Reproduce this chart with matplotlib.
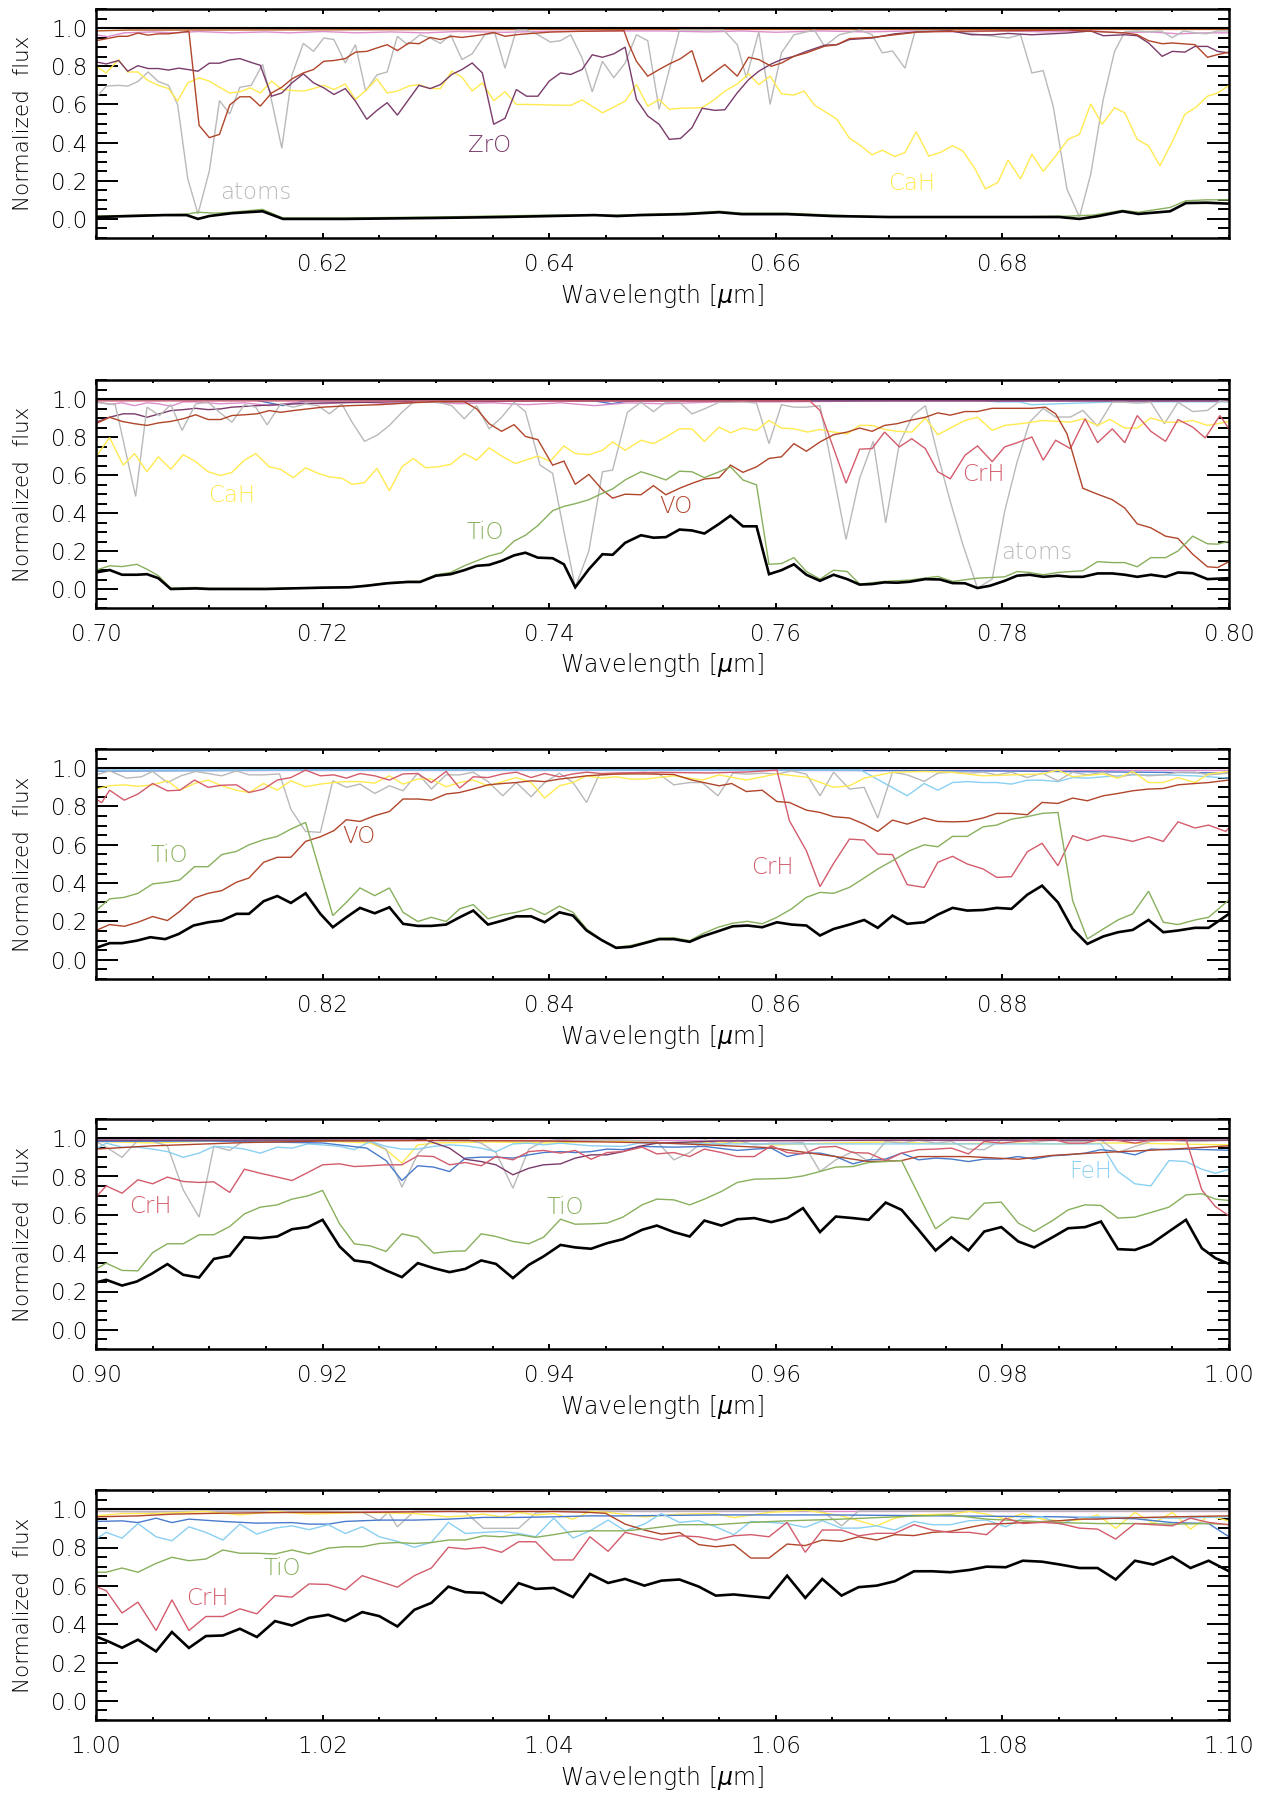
import matplotlib
matplotlib.use('Agg')
import matplotlib.pyplot as plt
from matplotlib.ticker import MultipleLocator, FixedLocator
from matplotlib import font_manager

plt.rcParams['font.family'] = ['DejaVu Sans']
_names = {f.name + '|' + str(f.weight) for f in font_manager.fontManager.ttflist}
LIGHT = 'light' if any(n.startswith('DejaVu Sans|') and n.split('|')[1] in ('200', '300', 'light', 'extra-light') for n in _names) else 'normal'
plt.rcParams['font.weight'] = LIGHT
plt.rcParams['axes.labelweight'] = LIGHT
plt.rcParams['mathtext.fontset'] = 'custom'
plt.rcParams['mathtext.it'] = 'DejaVu Sans:italic:light'
plt.rcParams['mathtext.rm'] = 'DejaVu Sans:light'

# ---------------- colours ----------------
C_TOTAL = 'black'
C_ATOMS = '#b9b9b9'
C_ZRO = '#7a3b6b'
C_CAH = '#ffea50'
C_VO = '#b0452a'
C_TIO = '#88b05c'
C_CRH = '#d35c6c'
C_FEH = '#8ad0f2'
C_BLUE = '#4a7bcc'
C_PINK = '#dc8fcc'
C_TOP = '#b85a22'

# ---------------- panel 1 : 0.60-0.70 ----------------
p1_total = [(0.600,0.01),(0.603,0.015),(0.606,0.02),(0.608,0.02),(0.609,0.0),(0.610,0.015),(0.612,0.03),(0.6147,0.04),(0.6165,0.0),(0.622,0.0),(0.630,0.005),(0.636,0.01),(0.640,0.015),(0.644,0.02),(0.646,0.015),(0.648,0.02),(0.652,0.025),(0.655,0.035),(0.657,0.025),(0.661,0.025),(0.665,0.015),(0.670,0.01),(0.675,0.01),(0.680,0.01),(0.685,0.01),(0.6868,0.0),(0.6885,0.015),(0.6906,0.04),(0.692,0.026),(0.6948,0.04),(0.6962,0.083),(0.698,0.085),(0.700,0.08)]
p1_tio = [(0.600,0.015),(0.604,0.02),(0.608,0.025),(0.609,0.035),(0.6105,0.03),(0.612,0.035),(0.6147,0.05),(0.6165,0.005),(0.622,0.005),(0.630,0.01),(0.640,0.02),(0.646,0.02),(0.652,0.03),(0.655,0.04),(0.657,0.03),(0.661,0.03),(0.665,0.02),(0.670,0.01),(0.680,0.01),(0.686,0.015),(0.688,0.02),(0.6906,0.045),(0.692,0.035),(0.6948,0.06),(0.6962,0.095),(0.698,0.10),(0.700,0.10)]
p1_atoms = [(0.600,0.635),(0.6009,0.696),(0.602,0.70),(0.6028,0.696),(0.6037,0.72),(0.6046,0.77),(0.6055,0.72),(0.6064,0.70),(0.6072,0.60),(0.6081,0.21),(0.609,0.026),(0.610,0.25),(0.6109,0.62),(0.6118,0.55),(0.6127,0.69),(0.6137,0.70),(0.6147,0.81),(0.6155,0.62),(0.6164,0.37),(0.6173,0.755),(0.6183,0.92),(0.6192,0.878),(0.6201,0.948),(0.621,0.94),(0.622,0.817),(0.6229,0.913),(0.6238,0.67),(0.6248,0.755),(0.6257,0.77),(0.6266,0.957),(0.6275,0.913),(0.6286,0.965),(0.6295,0.948),(0.6304,0.92),(0.6313,0.965),(0.6323,0.835),(0.6332,0.865),(0.6343,0.965),(0.6352,0.974),(0.6361,0.79),(0.6371,0.99),(0.638,0.99),(0.639,0.965),(0.6401,0.927),(0.641,0.934),(0.6419,0.965),(0.6429,0.843),(0.6438,0.666),(0.6447,0.826),(0.6457,0.74),(0.6467,0.817),(0.6477,0.965),(0.6487,0.934),(0.6497,0.574),(0.6515,0.99),(0.6554,0.99),(0.6566,0.913),(0.6574,0.74),(0.6585,0.98),(0.6595,0.60),(0.6605,0.87),(0.6616,0.965),(0.6627,0.98),(0.6634,0.99),(0.6643,0.905),(0.6656,0.965),(0.6674,0.99),(0.6685,0.965),(0.6694,0.87),(0.6703,0.88),(0.6714,0.79),(0.6723,0.985),(0.6754,0.985),(0.6805,0.948),(0.6816,0.965),(0.6826,0.765),(0.6836,0.777),(0.6845,0.586),(0.6857,0.156),(0.6868,0.01),(0.6878,0.235),(0.6889,0.626),(0.6899,0.878),(0.6908,0.98),(0.6919,0.985),(0.6929,0.98),(0.694,0.985),(0.695,0.95),(0.696,0.985),(0.697,0.975),(0.698,0.97),(0.699,0.985),(0.700,0.985)]
p1_zro = [(0.600,0.823),(0.6009,0.812),(0.602,0.83),(0.6028,0.774),(0.6037,0.803),(0.6046,0.788),(0.6055,0.788),(0.6064,0.78),(0.6073,0.79),(0.6081,0.783),(0.609,0.774),(0.610,0.816),(0.6109,0.816),(0.6118,0.833),(0.6127,0.84),(0.6137,0.82),(0.6145,0.805),(0.6155,0.643),(0.6164,0.66),(0.6173,0.713),(0.6183,0.76),(0.6192,0.713),(0.6201,0.687),(0.621,0.652),(0.622,0.683),(0.6229,0.617),(0.6239,0.522),(0.6248,0.569),(0.6257,0.609),(0.6266,0.544),(0.6276,0.626),(0.6285,0.70),(0.6295,0.683),(0.6304,0.704),(0.6314,0.757),(0.6323,0.783),(0.6332,0.817),(0.6341,0.765),(0.6351,0.496),(0.6361,0.527),(0.6371,0.678),(0.638,0.643),(0.639,0.643),(0.640,0.722),(0.641,0.765),(0.6419,0.757),(0.6429,0.783),(0.6438,0.86),(0.6447,0.847),(0.6457,0.865),(0.6467,0.90),(0.6477,0.626),(0.6487,0.539),(0.6497,0.496),(0.6506,0.417),(0.6516,0.422),(0.6526,0.478),(0.6535,0.58),(0.6546,0.569),(0.6555,0.572),(0.6566,0.661),(0.6576,0.73),(0.6585,0.774),(0.6596,0.812),(0.6605,0.835),(0.6616,0.852),(0.6627,0.878),(0.6643,0.91),(0.6654,0.913),(0.6665,0.94),(0.6685,0.948),(0.6705,0.97),(0.6725,0.98),(0.6754,0.986),(0.6773,0.965),(0.6791,0.965),(0.6805,0.972),(0.6826,0.965),(0.6857,0.974),(0.6878,0.985),(0.6889,0.96),(0.6908,0.965),(0.6919,0.96),(0.6929,0.922),(0.6941,0.852),(0.695,0.878),(0.6961,0.874),(0.697,0.904),(0.6981,0.904),(0.699,0.878),(0.700,0.87)]
p1_vo = [(0.600,0.934),(0.6009,0.944),(0.602,0.957),(0.6028,0.957),(0.6037,0.974),(0.6046,0.963),(0.6055,0.97),(0.6064,0.97),(0.6082,0.983),(0.6091,0.49),(0.610,0.426),(0.6109,0.443),(0.6118,0.597),(0.6127,0.64),(0.6136,0.64),(0.6145,0.591),(0.6155,0.66),(0.6164,0.69),(0.6173,0.734),(0.6183,0.765),(0.6192,0.783),(0.6201,0.826),(0.621,0.83),(0.622,0.84),(0.6229,0.874),(0.6239,0.878),(0.6248,0.896),(0.6257,0.913),(0.6266,0.882),(0.6276,0.922),(0.6285,0.918),(0.6295,0.951),(0.6304,0.94),(0.6314,0.957),(0.6323,0.951),(0.6341,0.965),(0.6351,0.977),(0.6361,0.957),(0.6371,0.965),(0.638,0.97),(0.6401,0.979),(0.6426,0.983),(0.6466,0.986),(0.647,0.92),(0.6477,0.826),(0.6487,0.748),(0.6497,0.783),(0.6506,0.812),(0.6516,0.84),(0.6526,0.882),(0.6535,0.718),(0.6546,0.77),(0.6555,0.809),(0.6566,0.748),(0.6576,0.847),(0.6585,0.835),(0.6596,0.80),(0.6605,0.817),(0.6616,0.852),(0.6627,0.87),(0.6643,0.905),(0.6654,0.913),(0.6665,0.945),(0.6685,0.951),(0.6705,0.965),(0.6725,0.979),(0.6754,0.983),(0.6805,0.986),(0.6857,0.99),(0.6889,0.98),(0.6908,0.975),(0.6919,0.965),(0.6929,0.934),(0.6941,0.918),(0.695,0.922),(0.6961,0.917),(0.697,0.913),(0.6981,0.847),(0.699,0.861),(0.700,0.874)]
p1_cah = [(0.600,0.80),(0.6009,0.765),(0.602,0.835),(0.6028,0.77),(0.6037,0.77),(0.6046,0.725),(0.6055,0.70),(0.6064,0.683),(0.6072,0.617),(0.6081,0.713),(0.6091,0.739),(0.610,0.722),(0.6109,0.69),(0.6118,0.66),(0.6127,0.666),(0.6136,0.687),(0.6145,0.66),(0.6155,0.722),(0.6164,0.678),(0.6173,0.673),(0.6183,0.67),(0.6192,0.683),(0.6201,0.70),(0.621,0.678),(0.622,0.707),(0.6229,0.626),(0.6239,0.678),(0.6248,0.734),(0.6257,0.66),(0.6266,0.67),(0.6276,0.696),(0.6285,0.704),(0.6295,0.683),(0.6304,0.683),(0.6314,0.774),(0.6323,0.743),(0.6332,0.67),(0.6341,0.713),(0.6351,0.62),(0.6361,0.666),(0.6371,0.60),(0.638,0.60),(0.640,0.597),(0.6419,0.595),(0.6429,0.624),(0.6447,0.556),(0.6467,0.617),(0.6477,0.704),(0.6487,0.591),(0.6497,0.626),(0.6506,0.574),(0.6516,0.58),(0.6535,0.583),(0.6546,0.626),(0.6555,0.67),(0.6566,0.707),(0.6576,0.76),(0.6585,0.704),(0.6595,0.748),(0.6605,0.656),(0.6616,0.649),(0.6625,0.67),(0.6634,0.597),(0.6645,0.556),(0.6654,0.522),(0.6665,0.423),(0.6674,0.388),(0.6685,0.336),(0.6694,0.36),(0.6705,0.327),(0.6714,0.348),(0.6724,0.457),(0.6735,0.329),(0.6745,0.348),(0.6756,0.383),(0.6765,0.357),(0.6776,0.261),(0.6785,0.157),(0.6796,0.191),(0.6805,0.308),(0.6816,0.209),(0.6826,0.339),(0.6836,0.249),(0.6847,0.33),(0.6858,0.417),(0.6868,0.443),(0.6878,0.603),(0.6888,0.496),(0.6899,0.583),(0.6908,0.556),(0.6919,0.417),(0.6929,0.383),(0.6939,0.278),(0.6951,0.417),(0.6961,0.548),(0.6971,0.586),(0.6981,0.643),(0.699,0.66),(0.700,0.70)]
p1_pink = [(0.600,0.965),(0.601,0.955),(0.6025,0.975),(0.605,0.98),(0.607,0.975),(0.609,0.982),(0.612,0.975),(0.615,0.98),(0.617,0.975),(0.620,0.982),(0.623,0.975),(0.626,0.98),(0.629,0.975),(0.632,0.982),(0.636,0.978),(0.640,0.983),(0.645,0.985),(0.650,0.985),(0.654,0.98),(0.657,0.985),(0.660,0.978),(0.664,0.985),(0.668,0.98),(0.672,0.985),(0.676,0.98),(0.680,0.985),(0.684,0.98),(0.688,0.985),(0.6905,0.975),(0.693,0.98),(0.6955,0.97),(0.698,0.975),(0.700,0.975)]
p1_top = [(0.600,0.985),(0.603,0.99),(0.610,0.99),(0.640,0.993),(0.700,0.993)]

# ---------------- panel 2 : 0.70-0.80 ----------------
p2_total = [(0.700,0.087),(0.7012,0.10),(0.7023,0.075),(0.7036,0.075),(0.7045,0.078),(0.7055,0.057),(0.7066,0.0),(0.7088,0.003),(0.710,0.0),(0.715,0.0),(0.720,0.007),(0.7224,0.009),(0.7239,0.017),(0.7257,0.03),(0.7275,0.037),(0.7286,0.037),(0.730,0.07),(0.7313,0.078),(0.7325,0.099),(0.7336,0.122),(0.7347,0.127),(0.7358,0.148),(0.7369,0.177),(0.7379,0.191),(0.739,0.165),(0.7403,0.162),(0.7413,0.13),(0.7423,0.009),(0.7435,0.104),(0.7447,0.183),(0.7456,0.18),(0.7467,0.243),(0.7481,0.283),(0.7492,0.27),(0.7503,0.273),(0.7515,0.313),(0.7526,0.308),(0.7537,0.292),(0.755,0.343),(0.756,0.386),(0.7571,0.33),(0.7583,0.33),(0.7594,0.078),(0.7605,0.099),(0.7616,0.13),(0.7627,0.075),(0.7639,0.043),(0.7651,0.075),(0.7663,0.052),(0.7674,0.023),(0.7685,0.026),(0.7696,0.035),(0.7707,0.033),(0.7718,0.038),(0.7732,0.052),(0.7745,0.05),(0.7756,0.031),(0.7767,0.03),(0.7778,0.005),(0.7789,0.017),(0.7802,0.043),(0.7813,0.07),(0.7824,0.075),(0.7836,0.064),(0.7849,0.07),(0.786,0.064),(0.7871,0.064),(0.7884,0.082),(0.7897,0.082),(0.7908,0.075),(0.7919,0.064),(0.7931,0.075),(0.7944,0.064),(0.7955,0.087),(0.7968,0.083),(0.7981,0.052),(0.800,0.057)]
p2_tio = [(0.700,0.099),(0.7012,0.122),(0.7023,0.118),(0.7036,0.13),(0.7045,0.104),(0.7055,0.07),(0.7066,0.005),(0.7088,0.008),(0.710,0.004),(0.715,0.003),(0.720,0.008),(0.7224,0.01),(0.7239,0.02),(0.7257,0.033),(0.7275,0.04),(0.7286,0.04),(0.730,0.075),(0.7313,0.087),(0.7325,0.122),(0.7336,0.148),(0.7347,0.174),(0.7358,0.191),(0.7369,0.252),(0.7379,0.283),(0.739,0.334),(0.7403,0.412),(0.7413,0.435),(0.7423,0.449),(0.7435,0.47),(0.7447,0.504),(0.7456,0.527),(0.7467,0.574),(0.7481,0.617),(0.7492,0.597),(0.7503,0.574),(0.7515,0.62),(0.7526,0.617),(0.7537,0.586),(0.755,0.617),(0.756,0.643),(0.7571,0.574),(0.7583,0.548),(0.7594,0.13),(0.7605,0.134),(0.7616,0.165),(0.7627,0.092),(0.7639,0.052),(0.7651,0.099),(0.7663,0.092),(0.7674,0.026),(0.7696,0.04),(0.7718,0.047),(0.7743,0.066),(0.7756,0.04),(0.7778,0.057),(0.7802,0.064),(0.7813,0.092),(0.7824,0.087),(0.7836,0.075),(0.7849,0.087),(0.786,0.092),(0.7871,0.096),(0.7884,0.144),(0.7897,0.139),(0.7908,0.139),(0.7919,0.117),(0.7931,0.165),(0.7944,0.165),(0.7955,0.2),(0.7968,0.278),(0.7981,0.238),(0.799,0.236),(0.800,0.252)]
p2_atoms = [(0.700,0.983),(0.7017,0.97),(0.7035,0.487),(0.7045,0.957),(0.7056,0.913),(0.7066,0.97),(0.7076,0.835),(0.7088,0.974),(0.7099,0.983),(0.7109,0.93),(0.712,0.878),(0.7131,0.97),(0.7141,0.957),(0.7151,0.864),(0.7163,0.974),(0.7174,0.957),(0.7185,0.974),(0.7196,0.965),(0.7206,0.922),(0.7217,0.974),(0.7226,0.878),(0.7237,0.777),(0.7248,0.809),(0.7259,0.861),(0.727,0.93),(0.728,0.983),(0.7291,0.986),(0.7302,0.983),(0.7314,0.965),(0.7325,0.896),(0.7336,0.965),(0.7347,0.843),(0.7358,0.904),(0.7369,0.983),(0.7379,0.934),(0.7392,0.652),(0.7403,0.609),(0.7413,0.304),(0.7423,0.009),(0.7435,0.2),(0.7447,0.617),(0.7456,0.626),(0.7469,0.93),(0.7481,0.983),(0.7492,0.934),(0.7503,0.983),(0.7515,0.983),(0.7526,0.922),(0.7537,0.948),(0.755,0.983),(0.756,0.983),(0.7571,0.986),(0.7583,0.978),(0.7594,0.765),(0.7605,0.97),(0.7616,0.957),(0.7627,0.957),(0.7639,0.965),(0.7651,0.60),(0.7662,0.261),(0.7674,0.583),(0.7686,0.777),(0.7697,0.348),(0.7709,0.765),(0.7721,0.913),(0.7732,0.965),(0.7743,0.704),(0.7754,0.461),(0.7765,0.235),(0.7778,0.005),(0.7791,0.052),(0.7802,0.409),(0.7813,0.67),(0.7824,0.878),(0.7836,0.951),(0.7847,0.905),(0.786,0.905),(0.7871,0.94),(0.7884,0.857),(0.7897,0.983),(0.7908,0.983),(0.7919,0.978),(0.7931,0.983),(0.7943,0.87),(0.7955,0.983),(0.7968,0.934),(0.7981,0.94),(0.7992,0.99),(0.800,0.985)]
p2_vo = [(0.700,0.87),(0.7012,0.904),(0.7023,0.882),(0.7034,0.87),(0.7045,0.861),(0.7055,0.874),(0.7066,0.882),(0.7077,0.896),(0.7088,0.917),(0.7099,0.892),(0.711,0.892),(0.712,0.913),(0.7131,0.917),(0.7142,0.922),(0.7153,0.939),(0.7163,0.93),(0.7174,0.939),(0.720,0.957),(0.7224,0.965),(0.725,0.97),(0.7275,0.979),(0.730,0.986),(0.7325,0.986),(0.7336,0.948),(0.7347,0.87),(0.7358,0.83),(0.7369,0.865),(0.7379,0.803),(0.739,0.786),(0.7403,0.652),(0.7413,0.673),(0.7423,0.551),(0.7435,0.603),(0.7447,0.522),(0.7456,0.478),(0.7467,0.499),(0.7481,0.496),(0.7492,0.544),(0.7503,0.496),(0.7515,0.53),(0.7526,0.556),(0.7537,0.579),(0.755,0.586),(0.756,0.652),(0.7571,0.614),(0.7583,0.643),(0.7594,0.687),(0.7605,0.696),(0.7616,0.765),(0.7627,0.725),(0.7639,0.774),(0.7651,0.812),(0.7663,0.826),(0.7674,0.847),(0.7685,0.83),(0.7696,0.861),(0.7707,0.87),(0.7718,0.887),(0.7732,0.904),(0.7743,0.927),(0.7754,0.915),(0.7767,0.934),(0.7778,0.934),(0.7791,0.951),(0.7802,0.951),(0.7815,0.951),(0.7826,0.951),(0.7838,0.957),(0.7847,0.922),(0.7857,0.817),(0.7871,0.53),(0.7884,0.499),(0.7897,0.47),(0.7908,0.426),(0.7919,0.343),(0.7931,0.322),(0.7944,0.278),(0.7955,0.266),(0.7968,0.183),(0.7981,0.117),(0.799,0.113),(0.800,0.144)]
p2_cah = [(0.700,0.696),(0.7012,0.797),(0.7024,0.652),(0.7034,0.713),(0.7045,0.617),(0.7055,0.696),(0.7066,0.63),(0.7077,0.707),(0.7088,0.67),(0.7099,0.617),(0.711,0.597),(0.712,0.614),(0.7131,0.678),(0.7141,0.713),(0.7153,0.643),(0.7163,0.63),(0.7174,0.586),(0.7185,0.638),(0.7196,0.609),(0.7206,0.59),(0.7217,0.583),(0.7226,0.551),(0.7237,0.56),(0.7248,0.635),(0.7259,0.517),(0.727,0.643),(0.728,0.687),(0.7291,0.638),(0.7302,0.643),(0.7313,0.656),(0.7325,0.713),(0.7336,0.678),(0.7347,0.743),(0.7358,0.70),(0.737,0.66),(0.7379,0.678),(0.739,0.699),(0.7401,0.673),(0.7413,0.753),(0.7423,0.713),(0.7435,0.707),(0.7447,0.73),(0.7456,0.774),(0.7467,0.73),(0.7481,0.783),(0.7492,0.765),(0.7503,0.80),(0.7515,0.843),(0.7526,0.843),(0.7537,0.777),(0.755,0.852),(0.756,0.822),(0.7571,0.847),(0.7583,0.835),(0.7594,0.887),(0.7605,0.847),(0.7616,0.843),(0.7628,0.826),(0.7639,0.84),(0.7651,0.826),(0.7663,0.816),(0.7674,0.861),(0.7685,0.861),(0.7696,0.84),(0.7707,0.83),(0.772,0.826),(0.7732,0.90),(0.7743,0.812),(0.7754,0.847),(0.7767,0.887),(0.7778,0.904),(0.7791,0.835),(0.7802,0.861),(0.7816,0.87),(0.7826,0.878),(0.7836,0.887),(0.7849,0.882),(0.786,0.878),(0.7871,0.896),(0.7884,0.861),(0.7895,0.893),(0.7908,0.847),(0.7919,0.847),(0.7931,0.90),(0.7944,0.878),(0.7955,0.878),(0.7968,0.887),(0.7981,0.861),(0.799,0.87),(0.800,0.882)]
p2_crh = [(0.700,0.99),(0.720,0.99),(0.740,0.99),(0.755,0.99),(0.763,0.99),(0.7639,0.94),(0.7651,0.74),(0.7662,0.557),(0.7674,0.736),(0.7685,0.739),(0.7696,0.826),(0.7709,0.748),(0.772,0.791),(0.7732,0.739),(0.7743,0.617),(0.7754,0.58),(0.7767,0.704),(0.7778,0.753),(0.7791,0.67),(0.7802,0.748),(0.7813,0.77),(0.7826,0.80),(0.7836,0.678),(0.7847,0.783),(0.786,0.739),(0.7873,0.896),(0.7884,0.77),(0.7897,0.843),(0.7908,0.77),(0.7919,0.913),(0.7931,0.83),(0.7944,0.777),(0.7955,0.892),(0.7968,0.852),(0.7979,0.795),(0.7992,0.913),(0.800,0.843)]
p2_zro = [(0.700,0.878),(0.7012,0.904),(0.7024,0.922),(0.7034,0.922),(0.7045,0.904),(0.7056,0.922),(0.7066,0.939),(0.7077,0.944),(0.7088,0.951),(0.7099,0.944),(0.711,0.948),(0.712,0.957),(0.7142,0.965),(0.7174,0.974),(0.720,0.979),(0.7275,0.986),(0.7325,0.986),(0.740,0.99),(0.760,0.99),(0.800,0.99)]
p2_pink = [(0.700,0.985),(0.7012,0.972),(0.7023,0.98),(0.7034,0.965),(0.7045,0.98),(0.7055,0.975),(0.7066,0.962),(0.7077,0.985),(0.7088,0.985),(0.7109,0.975),(0.7131,0.98),(0.7153,0.965),(0.7174,0.98),(0.720,0.975),(0.723,0.985),(0.726,0.975),(0.729,0.985),(0.732,0.975),(0.735,0.98),(0.738,0.97),(0.741,0.98),(0.744,0.965),(0.747,0.98),(0.750,0.975),(0.755,0.985),(0.760,0.985),(0.770,0.99),(0.800,0.99)]
p2_blue = [(0.700,0.995),(0.714,0.995),(0.7165,0.965),(0.7185,0.99),(0.730,0.995),(0.744,0.99),(0.7455,0.975),(0.747,0.99),(0.760,0.995),(0.800,0.995)]
p2_feh = [(0.700,0.995),(0.778,0.995),(0.7795,0.985),(0.7815,0.985),(0.7826,0.97),(0.785,0.975),(0.790,0.985),(0.800,0.985)]

# ---------------- panel 3 : 0.80-0.90 ----------------
p3_total = [(0.800,0.0625),(0.8012,0.087),(0.8023,0.087),(0.8036,0.10),(0.8048,0.118),(0.8061,0.108),(0.8073,0.135),(0.8086,0.179),(0.8099,0.196),(0.8111,0.205),(0.8124,0.24),(0.8135,0.24),(0.8148,0.306),(0.816,0.333),(0.8172,0.297),(0.8185,0.347),(0.8198,0.24),(0.8209,0.17),(0.8221,0.222),(0.8233,0.271),(0.8246,0.243),(0.8259,0.274),(0.8271,0.188),(0.8284,0.177),(0.8296,0.177),(0.8309,0.184),(0.8321,0.222),(0.8333,0.257),(0.8346,0.184),(0.8359,0.205),(0.8371,0.227),(0.8384,0.227),(0.8396,0.196),(0.8409,0.248),(0.8421,0.231),(0.8433,0.153),(0.8446,0.104),(0.8459,0.0625),(0.8472,0.068),(0.8484,0.087),(0.8497,0.108),(0.851,0.108),(0.8524,0.094),(0.8535,0.122),(0.8549,0.149),(0.8562,0.175),(0.8575,0.179),(0.8588,0.17),(0.8601,0.196),(0.8614,0.184),(0.8627,0.179),(0.8639,0.127),(0.8651,0.161),(0.8665,0.184),(0.8678,0.208),(0.869,0.167),(0.8703,0.231),(0.8716,0.188),(0.8731,0.196),(0.8743,0.236),(0.8756,0.271),(0.8769,0.257),(0.8783,0.26),(0.8795,0.271),(0.8808,0.266),(0.8822,0.34),(0.8835,0.387),(0.8849,0.30),(0.8862,0.161),(0.8875,0.083),(0.8889,0.122),(0.8902,0.144),(0.8915,0.156),(0.8929,0.208),(0.8942,0.144),(0.8955,0.153),(0.897,0.167),(0.8982,0.167),(0.900,0.24)]
p3_tio = [(0.800,0.257),(0.8012,0.318),(0.8025,0.326),(0.8037,0.347),(0.805,0.396),(0.8063,0.405),(0.8074,0.417),(0.8087,0.486),(0.8099,0.486),(0.8111,0.549),(0.8124,0.566),(0.8135,0.60),(0.8148,0.627),(0.816,0.644),(0.8172,0.682),(0.8185,0.717),(0.8209,0.231),(0.8221,0.30),(0.8233,0.375),(0.8246,0.335),(0.8259,0.375),(0.8271,0.248),(0.8284,0.20),(0.8296,0.222),(0.8309,0.20),(0.8321,0.266),(0.8333,0.288),(0.8346,0.214),(0.8359,0.236),(0.8371,0.248),(0.8384,0.269),(0.8396,0.236),(0.8409,0.28),(0.8421,0.248),(0.8433,0.161),(0.8446,0.106),(0.8459,0.066),(0.8472,0.075),(0.8484,0.092),(0.8497,0.113),(0.851,0.115),(0.8524,0.10),(0.8535,0.135),(0.8549,0.17),(0.8562,0.191),(0.8575,0.201),(0.8588,0.188),(0.8601,0.222),(0.8614,0.266),(0.8627,0.326),(0.8639,0.352),(0.8651,0.347),(0.8665,0.378),(0.8678,0.427),(0.869,0.474),(0.8703,0.517),(0.8718,0.569),(0.8731,0.60),(0.8743,0.59),(0.8756,0.644),(0.8769,0.644),(0.8783,0.694),(0.8795,0.703),(0.8808,0.734),(0.8822,0.747),(0.8835,0.764),(0.8849,0.769),(0.8862,0.309),(0.8875,0.109),(0.8889,0.161),(0.8902,0.208),(0.8915,0.24),(0.8929,0.358),(0.8942,0.196),(0.8955,0.184),(0.897,0.208),(0.8982,0.222),(0.900,0.313)]
p3_vo = [(0.800,0.153),(0.8012,0.184),(0.8025,0.175),(0.8037,0.196),(0.805,0.226),(0.8063,0.205),(0.8074,0.253),(0.8087,0.323),(0.8099,0.347),(0.8111,0.361),(0.8124,0.405),(0.8135,0.427),(0.8148,0.509),(0.816,0.535),(0.8172,0.535),(0.8185,0.618),(0.8198,0.642),(0.821,0.674),(0.8221,0.731),(0.8233,0.722),(0.8246,0.752),(0.8259,0.774),(0.8271,0.839),(0.8284,0.839),(0.8296,0.833),(0.8309,0.865),(0.8321,0.873),(0.8333,0.891),(0.8346,0.913),(0.8359,0.92),(0.8371,0.925),(0.8384,0.934),(0.8396,0.93),(0.8409,0.943),(0.8421,0.951),(0.8433,0.96),(0.8446,0.965),(0.8459,0.969),(0.8472,0.97),(0.8484,0.97),(0.851,0.967),(0.8526,0.938),(0.855,0.908),(0.8561,0.92),(0.8574,0.878),(0.8588,0.885),(0.8601,0.826),(0.8612,0.821),(0.8627,0.781),(0.8639,0.769),(0.8651,0.747),(0.8665,0.74),(0.8678,0.708),(0.869,0.67),(0.8703,0.729),(0.8716,0.708),(0.8731,0.74),(0.8743,0.722),(0.8756,0.72),(0.8769,0.722),(0.8783,0.74),(0.8795,0.764),(0.8808,0.764),(0.8822,0.757),(0.8835,0.821),(0.8849,0.816),(0.8862,0.844),(0.8875,0.83),(0.8889,0.856),(0.8902,0.868),(0.8915,0.882),(0.8929,0.891),(0.8942,0.894),(0.8955,0.913),(0.897,0.92),(0.8982,0.925),(0.900,0.938)]
p3_crh = [(0.800,0.839),(0.8005,0.82),(0.8012,0.885),(0.8025,0.833),(0.8037,0.865),(0.805,0.92),(0.8063,0.882),(0.8074,0.885),(0.8087,0.938),(0.8099,0.90),(0.8111,0.911),(0.8124,0.913),(0.8135,0.873),(0.8148,0.891),(0.816,0.938),(0.8172,0.951),(0.8185,0.99),(0.8198,0.96),(0.821,0.965),(0.8221,0.948),(0.8233,0.972),(0.8246,0.96),(0.8259,0.938),(0.8271,0.97),(0.8284,0.972),(0.8296,0.925),(0.8309,0.983),(0.8321,0.896),(0.8333,0.955),(0.8346,0.951),(0.8359,0.97),(0.8371,0.979),(0.8384,0.951),(0.8396,0.972),(0.8409,0.955),(0.8421,0.97),(0.8433,0.979),(0.8446,0.972),(0.846,0.975),(0.850,0.978),(0.854,0.975),(0.8575,0.98),(0.8601,0.99),(0.8612,0.726),(0.8627,0.569),(0.8639,0.382),(0.8651,0.503),(0.8665,0.63),(0.8678,0.625),(0.869,0.552),(0.8703,0.549),(0.8716,0.392),(0.8731,0.378),(0.8743,0.509),(0.8756,0.54),(0.8769,0.50),(0.8783,0.474),(0.8795,0.43),(0.8808,0.434),(0.8822,0.564),(0.8835,0.608),(0.8849,0.491),(0.8862,0.648),(0.8875,0.622),(0.8889,0.648),(0.8902,0.635),(0.8915,0.618),(0.8929,0.642),(0.8942,0.618),(0.8955,0.72),(0.897,0.688),(0.8982,0.703),(0.8997,0.67),(0.900,0.688)]
p3_cah = [(0.800,0.891),(0.8012,0.908),(0.8025,0.913),(0.8037,0.905),(0.805,0.913),(0.8063,0.934),(0.8074,0.885),(0.8087,0.92),(0.8099,0.938),(0.8111,0.908),(0.8124,0.885),(0.8135,0.873),(0.8148,0.92),(0.816,0.885),(0.8172,0.934),(0.8185,0.903),(0.8198,0.917),(0.821,0.925),(0.8221,0.93),(0.8233,0.93),(0.8246,0.922),(0.8259,0.96),(0.8271,0.917),(0.8284,0.943),(0.8296,0.943),(0.8309,0.903),(0.8321,0.925),(0.8333,0.938),(0.8346,0.908),(0.8359,0.93),(0.8371,0.951),(0.8384,0.925),(0.8396,0.844),(0.8409,0.908),(0.8421,0.925),(0.8433,0.96),(0.8446,0.948),(0.8459,0.955),(0.8472,0.943),(0.8484,0.943),(0.851,0.96),(0.8535,0.938),(0.855,0.965),(0.8574,0.938),(0.8601,0.97),(0.8627,0.953),(0.8651,0.90),(0.8665,0.908),(0.8678,0.948),(0.8703,0.978),(0.8731,0.983),(0.8756,0.978),(0.8783,0.96),(0.8808,0.965),(0.8835,0.97),(0.8849,0.99),(0.8862,0.955),(0.8889,0.97),(0.8902,0.948),(0.8915,0.983),(0.8929,0.925),(0.8942,0.925),(0.8955,0.951),(0.897,0.925),(0.8982,0.97),(0.900,0.983)]
p3_atoms = [(0.800,0.965),(0.8012,0.986),(0.8027,0.948),(0.804,0.955),(0.805,0.983),(0.8063,0.925),(0.8075,0.96),(0.8088,0.983),(0.8111,0.96),(0.8124,0.986),(0.8135,0.965),(0.8148,0.965),(0.8162,0.97),(0.8172,0.786),(0.8185,0.67),(0.8198,0.665),(0.8209,0.934),(0.8221,0.90),(0.8233,0.917),(0.8246,0.868),(0.8259,0.908),(0.8271,0.882),(0.8284,0.974),(0.8296,0.891),(0.8309,0.965),(0.8321,0.965),(0.8333,0.979),(0.8346,0.93),(0.8359,0.856),(0.8371,0.925),(0.8384,0.851),(0.8396,0.925),(0.8409,0.974),(0.8421,0.925),(0.8433,0.821),(0.8444,0.965),(0.8484,0.979),(0.8497,0.969),(0.851,0.913),(0.8524,0.925),(0.8535,0.925),(0.8549,0.856),(0.8562,0.974),(0.8575,0.969),(0.8588,0.974),(0.8601,0.969),(0.8614,0.986),(0.8627,0.969),(0.8639,0.856),(0.8651,0.979),(0.8665,0.891),(0.8678,0.90),(0.869,0.74),(0.8703,0.979),(0.8716,0.965),(0.8731,0.931),(0.8743,0.974),(0.8756,0.979),(0.8769,0.974),(0.8783,0.979),(0.8795,0.965),(0.8808,0.979),(0.8822,0.951),(0.8835,0.974),(0.8849,0.934),(0.8862,0.979),(0.8875,0.965),(0.8889,0.979),(0.8902,0.951),(0.8915,0.969),(0.8929,0.96),(0.8942,0.965),(0.8955,0.979),(0.897,0.979),(0.8982,0.965),(0.900,0.974)]
p3_feh = [(0.800,0.99),(0.830,0.99),(0.860,0.99),(0.8675,0.99),(0.8716,0.856),(0.8731,0.92),(0.8743,0.885),(0.8756,0.925),(0.8769,0.93),(0.8783,0.925),(0.8795,0.925),(0.8808,0.917),(0.8822,0.937),(0.8835,0.937),(0.8849,0.93),(0.8862,0.951),(0.8875,0.948),(0.8889,0.955),(0.8915,0.965),(0.8942,0.965),(0.897,0.96),(0.900,0.948)]
p3_blue = [(0.800,0.985),(0.820,0.99),(0.860,0.99),(0.880,0.985),(0.900,0.975)]
p3_pink = [(0.800,0.99),(0.850,0.99),(0.900,0.99)]

# ---------------- panel 4 : 0.90-1.00 ----------------
p4_total = [(0.900,0.247),(0.9009,0.261),(0.9023,0.231),(0.9036,0.252),(0.9049,0.292),(0.9063,0.343),(0.9077,0.287),(0.9091,0.273),(0.9104,0.37),(0.9118,0.386),(0.9131,0.483),(0.9145,0.478),(0.916,0.487),(0.9173,0.525),(0.9187,0.536),(0.920,0.574),(0.9215,0.435),(0.9228,0.362),(0.9242,0.351),(0.9256,0.31),(0.927,0.275),(0.9284,0.348),(0.9298,0.322),(0.9312,0.301),(0.9326,0.318),(0.934,0.362),(0.9353,0.344),(0.9368,0.27),(0.9382,0.339),(0.9395,0.383),(0.941,0.443),(0.9423,0.43),(0.9437,0.423),(0.9451,0.452),(0.9465,0.473),(0.9482,0.522),(0.9495,0.544),(0.951,0.51),(0.9524,0.487),(0.9537,0.57),(0.9552,0.544),(0.9566,0.577),(0.9581,0.583),(0.9596,0.562),(0.961,0.583),(0.9624,0.635),(0.9639,0.51),(0.9653,0.591),(0.9668,0.583),(0.9682,0.574),(0.9697,0.664),(0.9711,0.626),(0.9726,0.522),(0.9741,0.414),(0.9755,0.483),(0.977,0.414),(0.9784,0.513),(0.9799,0.536),(0.9814,0.461),(0.9828,0.43),(0.9844,0.482),(0.9858,0.53),(0.9873,0.536),(0.9887,0.565),(0.9902,0.421),(0.9917,0.417),(0.9931,0.447),(0.9947,0.513),(0.9962,0.574),(0.9976,0.426),(0.9988,0.374),(1.000,0.344)]
p4_tio = [(0.900,0.317),(0.9009,0.348),(0.9023,0.31),(0.9037,0.308),(0.905,0.403),(0.9063,0.449),(0.9077,0.449),(0.9091,0.496),(0.9104,0.496),(0.9118,0.539),(0.9131,0.605),(0.9145,0.64),(0.916,0.652),(0.9173,0.682),(0.9187,0.699),(0.920,0.727),(0.9215,0.553),(0.9228,0.449),(0.9242,0.438),(0.9256,0.409),(0.927,0.501),(0.9284,0.483),(0.9298,0.40),(0.9312,0.409),(0.9326,0.412),(0.934,0.501),(0.9353,0.487),(0.9368,0.461),(0.9382,0.449),(0.9395,0.483),(0.941,0.577),(0.9423,0.551),(0.9437,0.553),(0.9451,0.557),(0.9465,0.588),(0.9482,0.652),(0.9495,0.682),(0.951,0.678),(0.9524,0.652),(0.9537,0.682),(0.9552,0.722),(0.9566,0.769),(0.9581,0.786),(0.9596,0.788),(0.961,0.791),(0.9624,0.803),(0.9639,0.826),(0.9653,0.849),(0.9668,0.852),(0.9682,0.873),(0.9697,0.878),(0.9711,0.883),(0.9741,0.527),(0.9755,0.588),(0.977,0.577),(0.9784,0.661),(0.9799,0.666),(0.9814,0.557),(0.9828,0.513),(0.9844,0.569),(0.9858,0.626),(0.9873,0.652),(0.9887,0.649),(0.9902,0.583),(0.9917,0.588),(0.9931,0.612),(0.9947,0.64),(0.9962,0.704),(0.9976,0.71),(0.9988,0.682),(1.000,0.675)]
p4_crh = [(0.900,0.692),(0.9009,0.751),(0.9023,0.713),(0.9037,0.783),(0.905,0.762),(0.9063,0.797),(0.9077,0.774),(0.9091,0.769),(0.9104,0.772),(0.9118,0.717),(0.9131,0.838),(0.9145,0.817),(0.916,0.797),(0.9173,0.779),(0.9187,0.821),(0.920,0.861),(0.9215,0.866),(0.9228,0.852),(0.9242,0.856),(0.9256,0.861),(0.927,0.861),(0.9284,0.908),(0.9298,0.904),(0.9312,0.861),(0.9326,0.873),(0.934,0.856),(0.9353,0.904),(0.9368,0.887),(0.9382,0.93),(0.9395,0.936),(0.941,0.922),(0.9423,0.936),(0.9437,0.89),(0.9451,0.925),(0.9465,0.93),(0.9482,0.953),(0.9495,0.918),(0.951,0.925),(0.9524,0.904),(0.9537,0.943),(0.9552,0.925),(0.9566,0.904),(0.9581,0.904),(0.9596,0.96),(0.961,0.925),(0.9624,0.918),(0.9639,0.953),(0.9653,0.957),(0.9668,0.925),(0.9682,0.922),(0.9697,0.883),(0.9711,0.922),(0.9726,0.94),(0.9741,0.943),(0.9755,0.948),(0.977,0.918),(0.9784,0.983),(0.9799,0.974),(0.9814,0.983),(0.9828,0.988),(0.9844,0.995),(0.9858,0.974),(0.9873,0.974),(0.9887,0.995),(0.9902,0.988),(0.9917,0.974),(0.9931,0.99),(0.9947,0.988),(0.9962,0.995),(0.9976,0.73),(0.9988,0.643),(1.000,0.595)]
p4_atoms = [(0.900,0.983),(0.9009,0.953),(0.9023,0.90),(0.9037,0.99),(0.905,0.983),(0.9063,0.96),(0.9077,0.73),(0.9091,0.588),(0.9104,0.957),(0.9118,0.936),(0.9131,0.99),(0.916,0.99),(0.920,0.99),(0.9242,0.983),(0.9256,0.942),(0.927,0.744),(0.9284,0.918),(0.9298,1.0),(0.9312,0.99),(0.9326,0.995),(0.934,0.974),(0.9353,0.925),(0.9368,0.739),(0.9382,0.943),(0.9395,0.983),(0.941,0.995),(0.9423,0.99),(0.9462,0.99),(0.9495,0.983),(0.951,0.887),(0.9524,0.925),(0.9537,0.99),(0.9552,0.965),(0.9566,0.99),(0.9581,0.965),(0.9596,0.974),(0.961,0.974),(0.9624,0.977),(0.9639,0.826),(0.9653,0.887),(0.9668,0.93),(0.9682,0.878),(0.9697,0.983),(0.9711,0.974),(0.9726,0.99),(0.9741,0.974),(0.9755,0.983),(0.977,0.943),(0.9784,0.94),(0.9799,0.99),(0.9814,0.99),(0.9828,0.979),(0.9844,0.99),(0.9858,0.983),(0.9873,0.983),(0.9887,0.99),(0.9902,0.925),(0.9917,0.957),(0.9931,0.983),(0.9947,0.99),(0.9962,0.983),(0.9976,0.983),(1.000,0.99)]
p4_blue = [(0.900,0.983),(0.910,0.985),(0.920,0.975),(0.9239,0.948),(0.9256,0.883),(0.927,0.779),(0.9284,0.856),(0.9298,0.849),(0.9312,0.826),(0.9326,0.896),(0.934,0.901),(0.9353,0.901),(0.9368,0.896),(0.9382,0.913),(0.9395,0.925),(0.941,0.93),(0.9423,0.925),(0.9437,0.93),(0.9451,0.943),(0.9465,0.94),(0.9482,0.957),(0.951,0.953),(0.9537,0.957),(0.9566,0.936),(0.9581,0.943),(0.9596,0.948),(0.961,0.904),(0.9624,0.922),(0.9639,0.922),(0.9653,0.904),(0.9668,0.866),(0.9682,0.887),(0.9697,0.891),(0.9711,0.922),(0.9726,0.887),(0.9741,0.896),(0.9755,0.891),(0.977,0.878),(0.9784,0.891),(0.9799,0.891),(0.9814,0.904),(0.9828,0.891),(0.9844,0.908),(0.9858,0.913),(0.9873,0.922),(0.9887,0.94),(0.9902,0.93),(0.9917,0.913),(0.9931,0.943),(0.9947,0.94),(0.9962,0.943),(1.000,0.937)]
p4_zro = [(0.900,0.99),(0.928,0.99),(0.9289,0.995),(0.9312,0.948),(0.9326,0.89),(0.934,0.878),(0.9353,0.861),(0.9368,0.809),(0.9382,0.843),(0.9395,0.861),(0.941,0.866),(0.9423,0.896),(0.9437,0.913),(0.9451,0.913),(0.9465,0.93),(0.9479,0.957),(0.9495,0.974),(0.955,0.985),(0.970,0.99),(1.000,0.99)]
p4_vo = [(0.900,0.943),(0.905,0.96),(0.9131,0.977),(0.920,0.985),(0.930,0.988),(0.940,0.985),(0.950,0.975),(0.9596,0.95),(0.9653,0.904),(0.9682,0.878),(0.9711,0.883),(0.9726,0.904),(0.977,0.904),(0.9814,0.89),(0.9844,0.91),(0.9887,0.925),(0.9931,0.937),(0.9962,0.947),(1.000,0.96)]
p4_feh = [(0.900,0.943),(0.9009,0.974),(0.9023,0.953),(0.9037,0.953),(0.905,0.943),(0.9063,0.93),(0.9077,0.90),(0.9091,0.922),(0.9104,0.957),(0.9118,0.953),(0.9131,0.943),(0.9145,0.922),(0.916,0.953),(0.9173,0.948),(0.9187,0.97),(0.920,0.965),(0.9215,0.957),(0.9228,0.94),(0.9242,0.983),(0.9256,0.957),(0.927,0.943),(0.9284,0.943),(0.9298,0.957),(0.9312,0.965),(0.9326,0.96),(0.934,0.948),(0.9353,0.93),(0.9368,0.97),(0.9382,0.974),(0.9395,0.965),(0.941,0.974),(0.9437,0.96),(0.9465,0.957),(0.9479,0.974),(0.955,0.97),(0.965,0.97),(0.975,0.97),(0.985,0.97),(0.9887,0.97),(0.9902,0.826),(0.9917,0.762),(0.9931,0.751),(0.9947,0.883),(0.9962,0.878),(0.9976,0.838),(0.9988,0.817),(1.000,0.838)]
p4_cah = [(0.900,0.983),(0.905,0.975),(0.910,0.985),(0.915,0.98),(0.920,0.985),(0.9242,0.975),(0.9256,0.94),(0.927,0.87),(0.9284,0.965),(0.930,0.975),(0.935,0.98),(0.940,0.975),(0.945,0.985),(0.950,0.975),(0.955,0.98),(0.960,0.965),(0.965,0.975),(0.970,0.98),(0.975,0.97),(0.980,0.975),(0.985,0.97),(0.990,0.975),(0.995,0.97),(1.000,0.965)]
p4_pink = [(0.900,0.99),(0.950,0.99),(1.000,0.99)]

# ---------------- panel 5 : 1.00-1.10 ----------------
p5_total = [(1.000,0.336),(1.0012,0.307),(1.0023,0.277),(1.0037,0.319),(1.0053,0.258),(1.0067,0.359),(1.0082,0.276),(1.0097,0.338),(1.0112,0.341),(1.0127,0.376),(1.0142,0.333),(1.0158,0.416),(1.0173,0.393),(1.0188,0.433),(1.0205,0.449),(1.022,0.416),(1.0235,0.463),(1.025,0.442),(1.0266,0.388),(1.0281,0.475),(1.0296,0.511),(1.0311,0.596),(1.0326,0.567),(1.0342,0.563),(1.0358,0.511),(1.0373,0.614),(1.0388,0.584),(1.0404,0.589),(1.0421,0.541),(1.0436,0.662),(1.0452,0.615),(1.0467,0.636),(1.0484,0.601),(1.0499,0.627),(1.0515,0.633),(1.0532,0.596),(1.0547,0.549),(1.0563,0.555),(1.0578,0.546),(1.0594,0.537),(1.061,0.653),(1.0626,0.537),(1.0641,0.636),(1.0658,0.549),(1.0673,0.593),(1.0689,0.601),(1.0705,0.624),(1.0722,0.676),(1.0738,0.676),(1.0754,0.671),(1.0771,0.683),(1.0786,0.70),(1.0803,0.697),(1.0818,0.731),(1.0835,0.726),(1.0851,0.711),(1.0868,0.693),(1.0884,0.693),(1.090,0.633),(1.0917,0.731),(1.0933,0.711),(1.095,0.752),(1.0966,0.693),(1.0982,0.731),(1.100,0.676)]
p5_crh = [(1.000,0.596),(1.0009,0.575),(1.0023,0.458),(1.0037,0.515),(1.0053,0.367),(1.0067,0.527),(1.0082,0.367),(1.0097,0.44),(1.0112,0.44),(1.0127,0.48),(1.0142,0.454),(1.0158,0.549),(1.0173,0.541),(1.0188,0.61),(1.0205,0.607),(1.022,0.579),(1.0235,0.653),(1.025,0.624),(1.0266,0.593),(1.0281,0.653),(1.0296,0.693),(1.0311,0.801),(1.0326,0.792),(1.0342,0.801),(1.0358,0.775),(1.0373,0.83),(1.0388,0.83),(1.0404,0.735),(1.0421,0.735),(1.0436,0.856),(1.0452,0.78),(1.0467,0.879),(1.0484,0.856),(1.0499,0.839),(1.0515,0.861),(1.0532,0.856),(1.0547,0.839),(1.0563,0.861),(1.0578,0.867),(1.0594,0.856),(1.061,0.931),(1.0626,0.775),(1.0641,0.891),(1.0658,0.891),(1.0673,0.861),(1.0689,0.874),(1.0705,0.874),(1.0722,0.919),(1.0738,0.891),(1.0754,0.879),(1.0771,0.879),(1.0786,0.867),(1.0803,0.953),(1.0818,0.925),(1.0835,0.931),(1.0851,0.925),(1.0868,0.901),(1.0884,0.896),(1.090,0.844),(1.0917,0.925),(1.0933,0.919),(1.095,0.913),(1.0966,0.953),(1.0982,0.931),(1.100,0.919)]
p5_tio = [(1.000,0.671),(1.0009,0.671),(1.0023,0.693),(1.0037,0.671),(1.0053,0.717),(1.0067,0.749),(1.0082,0.731),(1.0097,0.74),(1.0112,0.787),(1.0127,0.77),(1.0142,0.77),(1.0158,0.766),(1.0173,0.787),(1.0188,0.766),(1.0205,0.797),(1.022,0.804),(1.0235,0.804),(1.025,0.821),(1.0266,0.826),(1.0281,0.821),(1.0296,0.826),(1.0311,0.839),(1.0326,0.839),(1.0342,0.861),(1.0358,0.856),(1.0373,0.867),(1.0388,0.853),(1.0404,0.867),(1.0421,0.884),(1.0436,0.887),(1.0452,0.887),(1.0467,0.887),(1.0484,0.896),(1.0515,0.919),(1.0547,0.919),(1.0578,0.931),(1.061,0.939),(1.0658,0.948),(1.0705,0.96),(1.0754,0.97),(1.0786,0.948),(1.0818,0.939),(1.0851,0.93),(1.0884,0.925),(1.0917,0.925),(1.095,0.922),(1.0982,0.925),(1.100,0.919)]
p5_feh = [(1.000,0.844),(1.0009,0.879),(1.0023,0.849),(1.0037,0.925),(1.0053,0.856),(1.0067,0.835),(1.0082,0.908),(1.0097,0.879),(1.0112,0.839),(1.0127,0.922),(1.0142,0.87),(1.0158,0.901),(1.0173,0.913),(1.0188,0.893),(1.0205,0.919),(1.022,0.873),(1.0235,0.908),(1.025,0.856),(1.0266,0.832),(1.0281,0.801),(1.0296,0.827),(1.0311,0.931),(1.0326,0.873),(1.0342,0.879),(1.0358,0.884),(1.0373,0.873),(1.0388,0.856),(1.0404,0.953),(1.0421,0.849),(1.0436,0.887),(1.0452,0.943),(1.0467,0.887),(1.0484,0.922),(1.0499,0.977),(1.0515,0.931),(1.0532,0.94),(1.0547,0.908),(1.0563,0.867),(1.0578,0.936),(1.0594,0.931),(1.061,0.925),(1.0626,0.905),(1.0641,0.94),(1.0658,0.901),(1.0673,0.901),(1.0689,0.913),(1.0705,0.891),(1.0722,0.936),(1.0738,0.919),(1.0754,0.919),(1.0771,0.94),(1.0786,0.943),(1.0803,0.908),(1.0818,0.953),(1.0835,0.96),(1.0851,0.922),(1.0868,0.957),(1.0884,0.96),(1.095,0.953),(1.100,0.96)]
p5_vo = [(1.000,0.96),(1.0037,0.965),(1.0067,0.974),(1.0112,0.979),(1.0173,0.983),(1.0235,0.983),(1.0311,0.988),(1.0404,0.988),(1.0436,0.983),(1.045,0.978),(1.0467,0.922),(1.0484,0.891),(1.0499,0.87),(1.0515,0.878),(1.0532,0.815),(1.0547,0.804),(1.0563,0.815),(1.0578,0.745),(1.0594,0.745),(1.061,0.818),(1.0626,0.81),(1.0641,0.839),(1.0658,0.832),(1.0673,0.856),(1.0689,0.839),(1.0705,0.867),(1.0722,0.862),(1.0738,0.879),(1.0754,0.884),(1.0771,0.905),(1.0786,0.922),(1.0803,0.925),(1.0818,0.93),(1.0851,0.94),(1.0868,0.948),(1.0884,0.948),(1.090,0.953),(1.095,0.96),(1.100,0.965)]
p5_blue = [(1.000,0.936),(1.0023,0.939),(1.0037,0.93),(1.0053,0.953),(1.0067,0.93),(1.0082,0.948),(1.0112,0.936),(1.0142,0.927),(1.0173,0.93),(1.0188,0.922),(1.0205,0.922),(1.022,0.936),(1.025,0.943),(1.0281,0.943),(1.0311,0.948),(1.0342,0.957),(1.0373,0.957),(1.0404,0.96),(1.0436,0.965),(1.0467,0.965),(1.055,0.97),(1.065,0.97),(1.075,0.965),(1.085,0.96),(1.0917,0.95),(1.095,0.93),(1.0982,0.925),(1.100,0.856)]
p5_cah = [(1.000,0.965),(1.0023,0.977),(1.0053,0.977),(1.0097,0.988),(1.0127,0.97),(1.0158,0.988),(1.0188,0.974),(1.0235,0.983),(1.0281,0.977),(1.0311,0.96),(1.0326,0.965),(1.0342,0.974),(1.0358,0.96),(1.0373,0.983),(1.0388,0.97),(1.0404,0.977),(1.0421,0.948),(1.0436,0.988),(1.0452,0.983),(1.0484,0.96),(1.0515,0.974),(1.0547,0.977),(1.0563,0.956),(1.0594,0.983),(1.0626,0.995),(1.0658,0.965),(1.0689,0.913),(1.0705,0.953),(1.0722,0.97),(1.0754,0.974),(1.0771,0.988),(1.0786,0.974),(1.0803,0.948),(1.0818,0.977),(1.0835,0.948),(1.0851,0.939),(1.0868,0.943),(1.0884,0.97),(1.090,0.90),(1.0917,0.983),(1.0933,0.926),(1.095,0.983),(1.0966,0.896),(1.0982,0.965),(1.100,0.939)]
p5_atoms = [(1.000,0.99),(1.005,0.985),(1.010,0.99),(1.020,0.99),(1.0235,0.985),(1.025,0.94),(1.0258,0.985),(1.0266,0.908),(1.0281,0.99),(1.0311,0.99),(1.0326,0.985),(1.0342,0.90),(1.0358,0.90),(1.0373,0.90),(1.0388,0.98),(1.0404,0.99),(1.050,0.99),(1.0641,0.99),(1.0658,0.913),(1.0673,0.99),(1.080,0.99),(1.100,0.99)]
p5_pink = [(1.000,0.99),(1.050,0.99),(1.100,0.99)]

# ---------------- panel definitions ----------------
x_ranges = [(0.60, 0.70), (0.70, 0.80), (0.80, 0.90), (0.90, 1.00), (1.00, 1.10)]
x_tick_labels = [
    ['0.62', '0.64', '0.66', '0.68'],
    ['0.70', '0.72', '0.74', '0.76', '0.78', '0.80'],
    ['0.82', '0.84', '0.86', '0.88'],
    ['0.90', '0.92', '0.94', '0.96', '0.98', '1.00'],
    ['1.00', '1.02', '1.04', '1.06', '1.08', '1.10'],
]
y_tick_labels = ['0.0', '0.2', '0.4', '0.6', '0.8', '1.0']

panel_series = [
    [(p1_top, C_TOP), (p1_pink, C_PINK), (p1_atoms, C_ATOMS), (p1_cah, C_CAH), (p1_zro, C_ZRO), (p1_vo, C_VO), (p1_tio, C_TIO)],
    [(p2_blue, C_BLUE), (p2_feh, C_FEH), (p2_pink, C_PINK), (p2_zro, C_ZRO), (p2_atoms, C_ATOMS), (p2_cah, C_CAH), (p2_crh, C_CRH), (p2_vo, C_VO), (p2_tio, C_TIO)],
    [(p3_pink, C_PINK), (p3_blue, C_BLUE), (p3_feh, C_FEH), (p3_atoms, C_ATOMS), (p3_cah, C_CAH), (p3_crh, C_CRH), (p3_vo, C_VO), (p3_tio, C_TIO)],
    [(p4_pink, C_PINK), (p4_cah, C_CAH), (p4_atoms, C_ATOMS), (p4_feh, C_FEH), (p4_blue, C_BLUE), (p4_zro, C_ZRO), (p4_vo, C_VO), (p4_crh, C_CRH), (p4_tio, C_TIO)],
    [(p5_pink, C_PINK), (p5_atoms, C_ATOMS), (p5_cah, C_CAH), (p5_blue, C_BLUE), (p5_feh, C_FEH), (p5_vo, C_VO), (p5_tio, C_TIO), (p5_crh, C_CRH)],
]
panel_totals = [p1_total, p2_total, p3_total, p4_total, p5_total]

panel_labels = [
    [('atoms', 0.6141, 0.14, C_ATOMS), ('ZrO', 0.6347, 0.386, C_ZRO), ('CaH', 0.6720, 0.188, C_CAH)],
    [('CaH', 0.7120, 0.494, C_CAH), ('TiO', 0.7344, 0.296, C_TIO), ('VO', 0.7512, 0.434, C_VO),
     ('CrH', 0.7783, 0.602, C_CRH), ('atoms', 0.7830, 0.194, C_ATOMS)],
    [('TiO', 0.8065, 0.542, C_TIO), ('VO', 0.8232, 0.644, C_VO), ('CrH', 0.8597, 0.482, C_CRH)],
    [('CrH', 0.9048, 0.644, C_CRH), ('TiO', 0.9414, 0.638, C_TIO), ('FeH', 0.9878, 0.824, C_FEH)],
    [('TiO', 1.01645, 0.692, C_TIO), ('CrH', 1.0098, 0.536, C_CRH)],
]

# ---------------- figure ----------------
W, H = 1268, 1793
fig = plt.figure(figsize=(W / 100, H / 100), dpi=100)
left_px, right_px = 96, 1229
panel_px = [(9, 238), (380, 608), (749, 979), (1119, 1349), (1490, 1720)]

FS_TICK = 16.5
FS_LAB = 17
FS_NAME = 16.5
for i in range(5):
    top, bot = panel_px[i]
    ax = fig.add_axes([left_px / W, 1 - bot / H, (right_px - left_px) / W, (bot - top) / H])
    for pts, col in panel_series[i]:
        xs, ys = zip(*pts)
        ax.plot(xs, ys, color=col, lw=1.0, solid_joinstyle='miter')
    xs, ys = zip(*panel_totals[i])
    ax.plot(xs, ys, color=C_TOTAL, lw=1.9, solid_joinstyle='miter')
    ax.axhline(1.0, color='black', lw=1.5)
    for txt, xx, yy, col in panel_labels[i]:
        ax.text(xx, yy, txt, color=col, fontsize=FS_NAME, ha='center', va='center')

    x0, x1 = x_ranges[i]
    ax.set_xlim(x0, x1)
    ax.set_ylim(-0.1, 1.1)
    xt = [float(t) for t in x_tick_labels[i]]
    ax.xaxis.set_major_locator(FixedLocator(xt))
    ax.set_xticklabels(x_tick_labels[i])
    ax.xaxis.set_minor_locator(MultipleLocator(0.005))
    ax.yaxis.set_major_locator(FixedLocator([0, 0.2, 0.4, 0.6, 0.8, 1.0]))
    ax.set_yticklabels(y_tick_labels)
    ax.yaxis.set_minor_locator(MultipleLocator(0.05))
    ax.tick_params(axis='both', which='both', direction='in', top=True, right=True,
                   width=1.4, labelsize=FS_TICK, colors='black')
    ax.tick_params(axis='x', which='major', length=3.5, pad=11)
    ax.tick_params(axis='x', which='minor', length=2.0)
    ax.tick_params(axis='y', which='major', length=16, pad=6)
    ax.tick_params(axis='y', which='minor', length=8)
    for sp in ax.spines.values():
        sp.set_linewidth(1.8)
    ax.set_xlabel(r'Wavelength [$\mu$m]', fontsize=FS_LAB, fontweight=LIGHT)
    ax.xaxis.set_label_coords(0.5, -0.19)
    ax.xaxis.label.set_va('top')
    ax.set_ylabel('Normalized  flux', fontsize=15.5, fontweight=LIGHT)
    ax.yaxis.set_label_coords(-0.056, 0.5)

fig.savefig('out.png', dpi=100)
